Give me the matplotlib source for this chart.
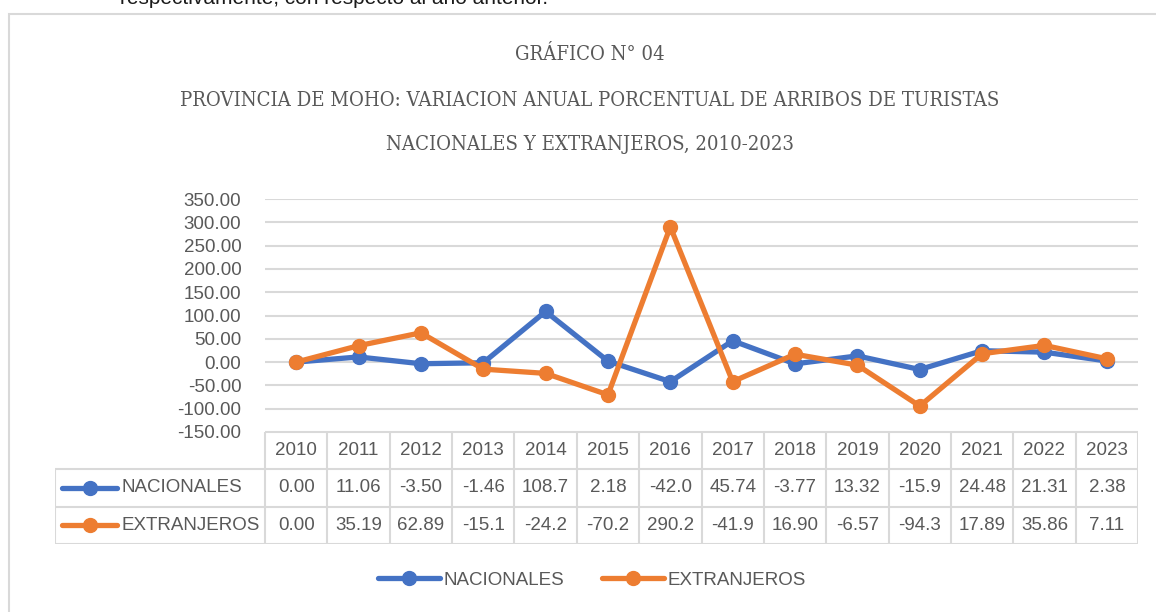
import numpy as np
import matplotlib
matplotlib.use("Agg")
import matplotlib.pyplot as plt
from matplotlib import font_manager
from matplotlib.lines import Line2D
from matplotlib.patches import Rectangle

years = [2010, 2011, 2012, 2013, 2014, 2015, 2016,
         2017, 2018, 2019, 2020, 2021, 2022, 2023]
nacionales = [0.00, 11.06, -3.50, -1.46, 108.7, 2.18, -42.0,
              45.74, -3.77, 13.32, -15.9, 24.48, 21.31, 2.38]
extranjeros = [0.00, 35.19, 62.89, -15.1, -24.2, -70.2, 290.2,
               -41.9, 16.90, -6.57, -94.3, 17.89, 35.86, 7.11]
series_names = ["NACIONALES", "EXTRANJEROS"]
colors = ["#4472C4", "#ED7D31"]
title_lines = ["GRÁFICO N° 04",
               "PROVINCIA DE MOHO: VARIACION ANUAL PORCENTUAL DE ARRIBOS DE TURISTAS",
               "NACIONALES Y EXTRANJEROS, 2010-2023"]

W, H = 1156, 612
TXT = "#595959"
GRID = "#d9d9d9"
plt.rcParams["font.family"] = ["Liberation Sans", "DejaVu Sans"]


def narrow_font():
    # pick a condensed face for the title if one is installed
    fonts = [f for f in font_manager.fontManager.ttflist
             if f.style == "normal" and f.weight in (400, "normal", "regular")]
    narrow = [f for f in fonts
              if any(k in f.fname for k in ("Condensed", "Narrow"))
              or f.stretch in ("condensed", "semi-condensed", "extra-condensed")]
    narrow.sort(key=lambda f: ("Serif" not in f.fname, f.fname))
    if narrow:
        return font_manager.FontProperties(fname=narrow[0].fname)
    return font_manager.FontProperties(family="Liberation Serif")


def box(x0, y0, x1, y1):
    return [x0 / W, 1 - y1 / H, (x1 - x0) / W, (y1 - y0) / H]


def cell(v):
    return f"{v:.2f}"[:5]


fig = plt.figure(figsize=(W / 100, H / 100), dpi=100)

# outer chart border
fig.patches.append(Rectangle((9 / W, -0.1), 1.2, 1 - 14 / H + 0.1,
                             transform=fig.transFigure, fill=False,
                             ec=GRID, lw=1.5))
fig.text(120 / W, 1 - 4 / H, "respectivamente, con respecto al año anterior.",
         va="baseline", ha="left", fontsize=15, color="#1a1a1a")

tp = narrow_font()
titles = []
for i, line in enumerate(title_lines):
    titles.append(fig.text(590 / W, 1 - (55 + i * 45) / H, line, ha="center",
                           va="center", fontproperties=tp, fontsize=19,
                           color=TXT))
# shrink the title so the long line spans about 820 px
r = fig.canvas.get_renderer()
wide = titles[1].get_window_extent(r).width
size = min(19, 19 * 820 / wide)
for t in titles:
    t.set_fontsize(size)

# line chart
ax = fig.add_axes(box(265, 199, 1138, 432))
x = np.arange(len(years))
ax.plot(x, nacionales, color=colors[0], lw=3.8, marker="o", ms=10,
        solid_capstyle="round", zorder=3)
ax.plot(x, extranjeros, color=colors[1], lw=3.8, marker="o", ms=10,
        solid_capstyle="round", zorder=4)
ax.set_xlim(-0.5, len(years) - 0.5)
ax.set_ylim(-150, 350)
yt = np.arange(-150, 351, 50)
ax.set_yticks(yt)
ax.set_yticklabels([f"{v:.2f}" for v in yt])
ax.set_xticks([])
ax.tick_params(axis="y", length=0, pad=17, labelsize=13.5, labelcolor=TXT)
ax.grid(axis="y", color=GRID, lw=1.5)
ax.set_axisbelow(True)
for s in ax.spines.values():
    s.set_visible(False)
ax.patch.set_alpha(0)

# data table under the chart
colw = (1138 - 265) / len(years)
left = -0.5 - (265 - 55) / colw
tax = fig.add_axes(box(55, 432, 1138, 544))
tax.set_xlim(left, len(years) - 0.5)
tax.set_ylim(3, 0)
tax.axis("off")
edges = np.arange(len(years) + 1) - 0.5
tax.hlines(0, -0.5, len(years) - 0.5, color=GRID, lw=1.5)
tax.hlines([1, 2, 3], left, len(years) - 0.5, color=GRID, lw=1.5)
tax.vlines(edges, 0, 3, color=GRID, lw=1.5)
tax.vlines(left, 1, 3, color=GRID, lw=1.5)
for j, yr in enumerate(years):
    tax.text(j, 0.5, str(yr), ha="center", va="center", fontsize=13.5, color=TXT)
for r_, vals in enumerate([nacionales, extranjeros]):
    for j, v in enumerate(vals):
        tax.text(j, r_ + 1.5, cell(v), ha="center", va="center",
                 fontsize=13.5, color=TXT)
    k0 = left + 7 / colw
    k1 = left + 62 / colw
    tax.plot([k0, k1], [r_ + 1.5, r_ + 1.5], color=colors[r_], lw=3.8,
             solid_capstyle="round")
    tax.plot((k0 + k1) / 2, r_ + 1.5, "o", color=colors[r_], ms=10)
    tax.text(left + 66 / colw, r_ + 1.5, series_names[r_], ha="left",
             va="center", fontsize=13.5, color=TXT)

handles = [Line2D([], [], color=c, lw=3.8, marker="o", ms=10,
                  solid_capstyle="round") for c in colors]
fig.legend(handles, series_names, loc="center",
           bbox_to_anchor=(592 / W, 1 - 580 / H), ncol=2, frameon=False,
           handlelength=3.3, handletextpad=0.2, columnspacing=2.0,
           fontsize=13.5, labelcolor=TXT)

fig.savefig("out.png", dpi=100)
